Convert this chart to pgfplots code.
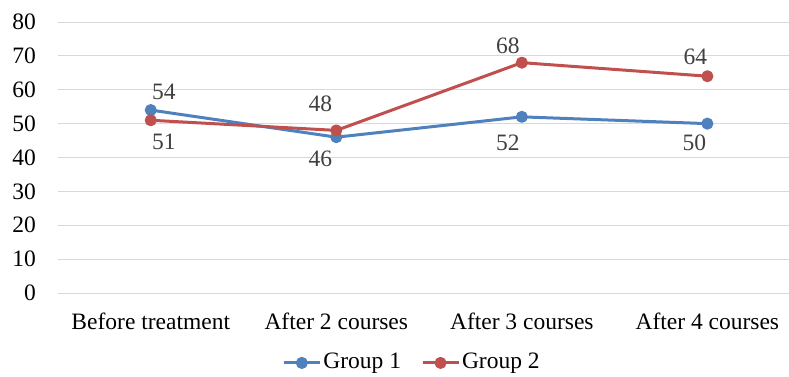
\documentclass[border=0pt]{standalone}
\usepackage{pgfplots}
\pgfplotsset{compat=1.18}
\usepackage{pgfplotstable}
\usepackage{fontspec}
\setmainfont{Liberation Serif}

\definecolor{gblue}{HTML}{4F81BD}
\definecolor{gred}{HTML}{C0504D}
\definecolor{gridgray}{HTML}{D9D9D9}
\definecolor{labelgray}{HTML}{404040}

% x = category index, y = value, dx/dy = offset of the value label (pt)
\pgfplotstableread{
x y dx dy
0 54 13 18
1 46 -16 -22
2 52 -14 -26
3 50 -13 -19
}\groupone
\pgfplotstableread{
x y dx dy
0 51 13 -22
1 48 -16 27
2 68 -14 17
3 64 -12 19
}\grouptwo

\pgfplotsset{
  valuelabels/.style={
    nodes near coords,
    visualization depends on={\thisrow{dx} \as \ldx},
    visualization depends on={\thisrow{dy} \as \ldy},
    every node near coord/.append style={anchor=center, inner sep=0pt,
      xshift=\ldx pt, yshift=\ldy pt,
      font=\fontsize{23.5}{28}\selectfont, text=labelgray},
  },
}

\begin{document}
\fontsize{23.5}{28}\selectfont
\begin{tikzpicture}
\useasboundingbox (-58pt,-83pt) rectangle (731pt,293pt);
\begin{axis}[
  at={(0pt,0pt)}, anchor=south west,
  scale only axis, width=731pt, height=271pt,
  xmin=-0.5, xmax=3.44, ymin=0, ymax=80,
  xtick={0,1,2,3},
  xticklabels={Before treatment, After 2 courses, After 3 courses, After 4 courses},
  ytick={0,10,...,80},
  /pgf/number format/assume math mode=true,
  axis line style={draw=none},
  major tick length=0pt,
  ymajorgrids, xmajorgrids=false,
  grid style={draw=gridgray, line width=1pt},
  tick label style={font=\fontsize{23.5}{28}\selectfont, text=black},
  yticklabel style={anchor=east, inner sep=0pt, xshift=-22pt},
  xticklabel style={anchor=north, inner sep=0pt, text height=17pt, text depth=5pt, yshift=-19pt},
  clip=false,
  legend columns=2,
  legend style={draw=none, fill=none, at={(0.4843,-0.258)}, anchor=center,
    inner sep=0pt, font=\fontsize{23.5}{28}\selectfont,
    nodes={inner xsep=2pt, inner ysep=0pt},
    /tikz/every even column/.append style={column sep=18pt}},
  legend image code/.code={\draw[mark repeat=2, mark phase=2, #1]
    plot coordinates {(0pt,0pt) (18pt,0pt) (36pt,0pt)};},
  every axis plot/.append style={line width=3pt, line join=round, mark=*, mark size=4.5pt,
    mark options={solid}},
]
\addplot[color=gblue, valuelabels] table[x=x, y=y] {\groupone};
\addlegendentry{Group 1}
\addplot[color=gred, valuelabels] table[x=x, y=y] {\grouptwo};
\addlegendentry{Group 2}
\end{axis}
\end{tikzpicture}
\end{document}
